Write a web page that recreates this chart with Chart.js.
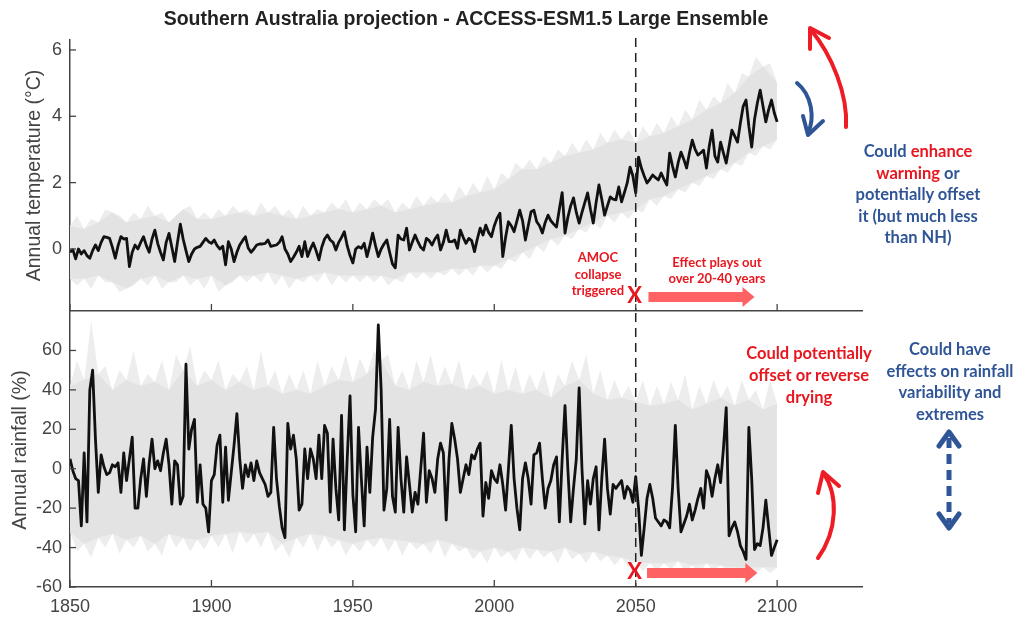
<!DOCTYPE html>
<html>
<head>
<meta charset="utf-8">
<script src="https://cdn.jsdelivr.net/npm/chart.js@4.4.1/dist/chart.umd.min.js"></script>
<style>
  body { margin: 0; background: #fff; width: 1020px; height: 619px; overflow: hidden; position: relative; }
  canvas { position: absolute; left: 0; }
  #topChart { top: 0; }
  #botChart { top: 312px; }
  .note { position: absolute; font-family: Lato, "Open Sans", sans-serif; font-weight: bold; text-align: center; white-space: nowrap; transform: translateX(-50%); }
  .red { color: #e8171f; }
  .blue { color: #2f5597; }
</style>
</head>
<body>
<canvas id="topChart" width="1020" height="312"></canvas>
<canvas id="botChart" width="1020" height="307"></canvas>

<div class="note red" style="left:598px; top:249px; font-size:13px; line-height:16.5px;">AMOC<br>collapse<br>triggered</div>
<div class="note red" style="left:717px; top:254px; font-size:13px; line-height:16px;">Effect plays out<br>over 20-40 years</div>
<div class="note blue" style="left:918px; top:141px; font-size:16.5px; line-height:21.5px;">Could <span class="red">enhance</span><br><span class="red">warming</span> or<br>potentially offset<br>it (but much less<br>than NH)</div>
<div class="note red" style="left:809px; top:342px; font-size:16.5px; line-height:22px;">Could potentially<br>offset or reverse<br>drying</div>
<div class="note blue" style="left:950px; top:339px; font-size:16.5px; line-height:21.7px;">Could have<br>effects on rainfall<br>variability and<br>extremes</div>

<script>
// ---- data ----
const years = Array.from({ length: 251 }, (_, i) => 1850 + i);
const bandYears = Array.from({ length: 51 }, (_, i) => 1850 + 5 * i);
const spikeYears = Array.from({ length: 50 }, (_, i) => 1852.5 + 5 * i);
const xTicks = [1850, 1900, 1950, 2000, 2050, 2100];
const tempTicks = [0, 2, 4, 6];
const rainTicks = [-60, -40, -20, 0, 20, 40, 60];
const collapseYear = 2050;

// ensemble mean, annual temperature anomaly (°C)
const tempMean = [
  -0.10, -0.02, -0.30, 0.00, -0.15, -0.05, -0.20, -0.28, -0.05, 0.12,
  -0.05, 0.20, 0.37, 0.35, 0.32, 0.05, -0.28, 0.10, 0.37, 0.30,
  0.32, -0.53, -0.10, 0.12, 0.00, 0.20, 0.37, 0.10, -0.10, 0.30,
  0.57, 0.17, -0.10, -0.33, 0.20, 0.47, 0.05, -0.38, 0.20, 0.75,
  0.30, -0.05, -0.38, -0.15, 0.00, 0.05, 0.08, 0.20, 0.32, 0.22,
  0.17, 0.27, 0.10, 0.00, 0.08, -0.48, 0.22, 0.00, -0.38, -0.10,
  0.12, 0.25, 0.37, 0.03, -0.10, 0.00, 0.12, 0.15, 0.15, 0.17,
  0.27, 0.08, 0.10, 0.12, 0.20, 0.37, 0.00, -0.15, -0.38, -0.25,
  -0.10, 0.08, -0.23, 0.22, -0.23, 0.00, 0.18, -0.05, -0.33, 0.05,
  0.30, 0.42, 0.27, 0.20, -0.03, 0.20, 0.35, 0.52, 0.10, -0.20,
  -0.42, 0.00, 0.07, 0.02, 0.17, -0.23, 0.10, 0.48, 0.10, -0.23,
  0.00, 0.15, 0.27, -0.10, -0.45, -0.57, 0.42, 0.30, 0.27, 0.63,
  -0.03, 0.20, 0.42, 0.22, 0.05, -0.03, 0.32, 0.25, 0.12, 0.30,
  0.42, -0.03, 0.20, 0.57, 0.22, 0.22, 0.27, 0.02, 0.57, 0.35,
  0.17, 0.32, 0.25, -0.08, 0.30, 0.63, 0.42, 0.72, 0.50, 0.37,
  0.70, 0.93, 1.08, -0.23, 0.35, 0.82, 0.70, 0.52, 0.85, 1.17,
  0.85, 0.27, 0.70, 1.12, 1.17, 0.82, 0.70, 0.48, 0.80, 1.02,
  0.85, 0.75, 0.66, 1.20, 1.70, 0.48, 0.95, 1.30, 1.54, 1.10,
  0.78, 1.10, 1.40, 1.69, 1.20, 0.78, 1.40, 1.93, 1.50, 1.02,
  1.30, 1.57, 1.50, 1.48, 1.87, 1.42, 1.70, 1.99, 2.47, 2.20,
  1.69, 2.77, 2.44, 2.20, 1.99, 2.10, 2.23, 2.15, 2.08, 2.29,
  2.10, 1.93, 2.89, 2.50, 2.17, 2.60, 2.92, 2.70, 2.44, 2.90,
  3.28, 3.00, 2.83, 2.90, 2.98, 2.44, 3.10, 3.58, 2.80, 2.62,
  3.22, 2.90, 2.59, 3.10, 3.58, 3.40, 3.22, 3.80, 4.30, 4.49,
  3.70, 3.07, 3.90, 4.40, 4.79, 4.30, 3.83, 4.20, 4.49, 4.10,
  3.83
];

// ensemble spread (core band every 5 years, member spikes in between)
const tempUpper = [
  0.7, 0.6, 0.8, 1.1, 0.8, 0.9, 1.0, 0.8, 1.2, 0.9,
  0.9, 1.0, 1.1, 1.0, 1.1, 1.0, 0.9, 1.0, 1.1, 1.2,
  1.1, 1.2, 1.3, 1.1, 1.2, 1.3, 1.4, 1.4, 1.6, 1.7,
  1.8, 2.1, 2.4, 2.4, 2.6, 2.8, 2.9, 3.0, 3.2, 3.3,
  3.2, 3.4, 3.5, 3.7, 3.9, 4.2, 4.4, 4.7, 5.2, 5.5,
  5.0
];
const tempLower = [
  -0.9, -0.9, -0.8, -1.0, -1.2, -0.9, -0.8, -1.0, -0.8, -0.9,
  -0.8, -1.1, -0.8, -0.8, -0.7, -0.8, -0.9, -0.8, -0.7, -0.8,
  -0.8, -0.8, -0.8, -0.9, -0.7, -0.7, -0.7, -0.6, -0.6, -0.5,
  -0.5, -0.3, -0.1, 0.1, 0.3, 0.4, 0.6, 0.8, 1.0, 1.1,
  1.2, 1.5, 1.6, 1.8, 2.0, 2.2, 2.4, 2.6, 2.9, 3.1,
  3.3
];
const tempSpikeUp = [
  1.0, 0.9, 1.2, 1.0, 1.1, 1.3, 1.1, 1.0, 1.3, 1.1,
  1.2, 1.3, 1.2, 1.4, 1.3, 1.2, 1.3, 1.2, 1.4, 1.5,
  1.4, 1.5, 1.5, 1.4, 1.6, 1.6, 1.7, 1.9, 2.0, 2.2,
  2.3, 2.6, 2.7, 2.8, 3.0, 3.2, 3.3, 3.5, 3.6, 3.6,
  3.7, 3.8, 4.0, 4.2, 4.5, 4.6, 5.0, 5.3, 5.8, 5.6
];
const tempSpikeLow = [
  -1.1, -1.2, -1.0, -1.3, -1.1, -1.1, -1.2, -1.0, -1.1, -1.2,
  -1.3, -1.0, -1.0, -1.0, -1.1, -1.2, -1.0, -1.0, -1.1, -1.0,
  -1.0, -1.0, -1.1, -1.0, -0.9, -0.9, -0.8, -0.8, -0.8, -0.7,
  -0.6, -0.4, -0.3, -0.1, 0.1, 0.3, 0.5, 0.6, 0.8, 0.9,
  1.1, 1.3, 1.5, 1.7, 1.9, 2.1, 2.3, 2.5, 2.8, 3.0
];

// ensemble mean, annual rainfall anomaly (%)
const rainMean = [
  5, -1, -5, -6, -29, 8, -27, 40, 50, 15,
  -12, 7, 1, -3, -2, 2, 1, 3, -12, 8,
  -6, 5, 16, -20, -20, -5, 5, -14, 3, 15,
  0, 4, -1, 8, 15, 2, -18, 4, 2, -18,
  -14, 53, 10, 20, 25, -17, 2, -18, -20, -32,
  -6, -3, 12, 17, -17, 11, -16, -2, 12, 28,
  5, -10, 2, -4, 3, -6, 4, -2, -5, -8,
  -14, -12, 21, -5, -19, -30, -35, 23, 10, 17,
  5, -21, -18, 10, -5, 10, 5, -5, 17, -5,
  22, 18, -22, 15, -10, -26, 27, -31, 5, 37,
  -13, -32, 21, -5, -29, 11, -12, 16, 30, 73,
  40, -21, -10, 25, -14, -22, 21, -5, -22, 6,
  -8, -22, -12, -18, 0, 18, -17, -1, -5, -12,
  5, 13, 8, -26, 5, 23, 15, 5, -12, -5,
  2, -3, 7, 5, 10, 13, -24, -7, -15, -1,
  -5, -7, 2, -8, -21, 0, 22, -5, -20, -31,
  -5, 3, -5, -18, 7, 8, 13, -5, -20, -10,
  -6, 2, 6, -27, 5, 32, 0, -27, -10, 5,
  41, 0, -28, -6, -18, -5, 1, -31, -5, 15,
  -10, -23, -8, -10, -8, -6, -15, -9, -11, -17,
  -4, -20, -44, -30, -15, -8, -15, -25, -27, -29,
  -26, -27, -30, -10, 22, -10, -32, -28, -24, -18,
  -26, -21, -15, -10, -20, -1, -5, -14, -5, 2,
  -7, 10, 31, -34, -30, -27, -32, -39, -42, -46,
  21, -5, -41, -38, -39, -30, -16, -30, -44, -40,
  -36
];

const rainUpper = [
  42, 45, 48, 40, 45, 42, 44, 40, 50, 42,
  45, 40, 44, 40, 42, 38, 40, 38, 42, 45,
  44, 48, 55, 42, 40, 44, 42, 43, 40, 42,
  38, 40, 38, 40, 36, 42, 45, 38, 35, 36,
  34, 32, 33, 35, 30, 33, 36, 32, 35, 30,
  33
];
const rainLower = [
  -32, -38, -35, -33, -36, -34, -38, -33, -35, -36,
  -34, -33, -32, -33, -32, -38, -35, -33, -34, -36,
  -38, -36, -35, -36, -37, -38, -36, -38, -40, -42,
  -40, -42, -40, -41, -42, -40, -43, -42, -44, -45,
  -47, -48, -48, -47, -49, -48, -49, -50, -50, -50,
  -50
];
const rainSpikeUp = [
  55, 75, 52, 50, 60, 48, 55, 58, 62, 50,
  55, 48, 52, 60, 50, 48, 50, 55, 52, 58,
  56, 60, 58, 50, 55, 58, 52, 55, 48, 50,
  55, 52, 48, 50, 48, 55, 58, 50, 45, 42,
  45, 42, 44, 48, 42, 45, 42, 45, 40, 45
];
const rainSpikeLow = [
  -42, -45, -40, -43, -40, -42, -44, -40, -42, -41,
  -40, -43, -38, -40, -42, -45, -40, -42, -40, -44,
  -42, -40, -42, -44, -41, -43, -45, -42, -46, -48,
  -45, -47, -46, -45, -48, -46, -48, -47, -49, -50,
  -52, -52, -51, -52, -53, -52, -52, -53, -53, -53
];

// ---- helpers ----
const pts = (xs, ys) => xs.map((x, i) => ({ x: x, y: ys[i] }));
// core band points with the spike values placed between them
const spiky = (core, spikes) => pts(bandYears, core).flatMap((p, i) =>
  i < spikes.length ? [p, { x: spikeYears[i], y: spikes[i] }] : [p]);

const AXIS = '#444';
const RED = '#ee1c25';
const BLUE = '#2f5597';
const SALMON = '#ff6262';
const NONE = 'rgba(0,0,0,0)';

function makeDatasets(mean, upper, lower, spikeUp, spikeLow) {
  return [
    { data: pts(years, mean), borderColor: '#111', borderWidth: 2.8, borderJoinStyle: 'round', pointRadius: 0, tension: 0, order: 0 },
    { data: pts(bandYears, upper), borderColor: NONE, borderWidth: 0, backgroundColor: '#e3e3e3', fill: '+1', pointRadius: 0, order: 1 },
    { data: pts(bandYears, lower), borderColor: NONE, borderWidth: 0, fill: false, pointRadius: 0, order: 2 },
    { data: spiky(upper, spikeUp), borderColor: NONE, borderWidth: 0, backgroundColor: '#ededed', fill: '+1', pointRadius: 0, order: 3 },
    { data: spiky(lower, spikeLow), borderColor: NONE, borderWidth: 0, fill: false, pointRadius: 0, order: 4 }
  ];
}

function fatArrow(ctx, x0, x1, yc, shaft, headLen, headH) {
  ctx.beginPath();
  ctx.moveTo(x0, yc - shaft / 2);
  ctx.lineTo(x1 - headLen, yc - shaft / 2);
  ctx.lineTo(x1 - headLen, yc - headH / 2);
  ctx.lineTo(x1, yc);
  ctx.lineTo(x1 - headLen, yc + headH / 2);
  ctx.lineTo(x1 - headLen, yc + shaft / 2);
  ctx.lineTo(x0, yc + shaft / 2);
  ctx.closePath();
  ctx.fill();
}

function chevron(ctx, tip, a, b) {
  ctx.beginPath();
  ctx.moveTo(a[0], a[1]);
  ctx.lineTo(tip[0], tip[1]);
  ctx.lineTo(b[0], b[1]);
  ctx.stroke();
}

// inward tick marks (MATLAB style), collapse marker and effect arrow
const axisDecor = {
  id: 'axisDecor',
  afterDatasetsDraw(chart, args, opts) {
    const { ctx, scales: { x, y } } = chart;
    const px = x.getPixelForValue(collapseYear);
    ctx.save();
    ctx.strokeStyle = '#222';
    ctx.lineWidth = 1.5;
    ctx.setLineDash([9, 6]);
    ctx.beginPath();
    ctx.moveTo(px, y.top - opts.dashExtra);
    ctx.lineTo(px, y.bottom);
    ctx.stroke();
    ctx.setLineDash([]);

    ctx.strokeStyle = AXIS;
    ctx.lineWidth = 1.3;
    x.ticks.forEach(t => {
      const p = x.getPixelForValue(t.value);
      ctx.beginPath(); ctx.moveTo(p, y.bottom); ctx.lineTo(p, y.bottom - 7); ctx.stroke();
    });
    y.ticks.forEach(t => {
      const p = y.getPixelForValue(t.value);
      ctx.beginPath(); ctx.moveTo(x.left, p); ctx.lineTo(x.left + 6, p); ctx.stroke();
    });

    // effect arrow and X marker
    ctx.fillStyle = SALMON;
    fatArrow(ctx, x.getPixelForValue(opts.arrowFrom), x.getPixelForValue(opts.arrowTo), y.bottom - 14, 10, 12, 20);
    ctx.fillStyle = '#e8171f';
    ctx.font = 'bold 22px Lato, sans-serif';
    ctx.textAlign = 'center';
    ctx.textBaseline = 'middle';
    ctx.fillText('X', px - 1, y.bottom - 15);
    ctx.restore();
  }
};

const topArrows = {
  id: 'topArrows',
  afterDraw(chart) {
    const ctx = chart.ctx;
    ctx.save();
    ctx.font = 'bold 19.5px "Liberation Sans", Arial, sans-serif';
    ctx.fillStyle = '#222';
    ctx.textAlign = 'center';
    ctx.textBaseline = 'middle';
    ctx.fillText('Southern Australia projection - ACCESS-ESM1.5 Large Ensemble', (chart.chartArea.left + chart.chartArea.right) / 2, 20);

    ctx.lineWidth = 4;
    ctx.lineCap = 'round';
    ctx.lineJoin = 'round';
    ctx.strokeStyle = RED;
    ctx.beginPath();
    ctx.moveTo(846, 127);
    ctx.bezierCurveTo(848, 95, 832, 55, 811, 30);
    ctx.stroke();
    chevron(ctx, [810, 28], [810, 49], [829, 38]);

    ctx.strokeStyle = BLUE;
    ctx.beginPath();
    ctx.moveTo(797, 83);
    ctx.bezierCurveTo(812, 95, 815, 118, 808, 133);
    ctx.stroke();
    chevron(ctx, [808, 135], [803, 116], [823, 121]);
    ctx.restore();
  }
};

const botArrows = {
  id: 'botArrows',
  afterDraw(chart) {
    const ctx = chart.ctx;
    const o = -312;
    ctx.save();
    ctx.lineWidth = 4;
    ctx.lineCap = 'round';
    ctx.lineJoin = 'round';
    ctx.strokeStyle = RED;
    ctx.beginPath();
    ctx.moveTo(818, 558 + o);
    ctx.bezierCurveTo(838, 530 + o, 838, 495 + o, 824, 474 + o);
    ctx.stroke();
    chevron(ctx, [823, 472 + o], [818, 493 + o], [839, 486 + o]);

    ctx.strokeStyle = BLUE;
    ctx.lineWidth = 5;
    ctx.lineCap = 'butt';
    ctx.setLineDash([10, 6]);
    ctx.beginPath();
    ctx.moveTo(949, 438 + o);
    ctx.lineTo(949, 523 + o);
    ctx.stroke();
    ctx.setLineDash([]);
    ctx.lineCap = 'round';
    chevron(ctx, [949, 432 + o], [939, 446 + o], [959, 446 + o]);
    chevron(ctx, [949, 528 + o], [939, 514 + o], [959, 514 + o]);
    ctx.restore();
  }
};

const FAMILY = '"Liberation Sans", Arial, sans-serif';

function yAxis(min, max, ticks, title, width) {
  return {
    type: 'linear', min: min, max: max,
    afterBuildTicks: s => { s.ticks = ticks.map(v => ({ value: v })); },
    afterFit: s => { s.width = width; s.paddingTop = 0; s.paddingBottom = 0; },
    ticks: { color: AXIS, font: { family: FAMILY, size: 18 }, padding: 8 },
    grid: { display: false, drawTicks: false },
    border: { display: true, color: AXIS, width: 1.5 },
    title: { display: true, text: title, color: AXIS, font: { family: FAMILY, size: 19.5 }, padding: 0 }
  };
}

function xAxis(showLabels, height) {
  return {
    type: 'linear', min: 1850, max: 2130,
    afterBuildTicks: s => { s.ticks = xTicks.map(v => ({ value: v })); },
    afterFit: s => { s.height = height; s.paddingLeft = 0; s.paddingRight = 0; },
    ticks: { display: showLabels, color: AXIS, font: { family: FAMILY, size: 18 }, padding: 9, maxRotation: 0, callback: v => String(v) },
    grid: { display: false, drawTicks: false },
    border: { display: true, color: AXIS, width: 1.5 }
  };
}

const common = {
  responsive: false,
  animation: false,
  plugins: { legend: { display: false }, tooltip: { enabled: false } }
};

new Chart(document.getElementById('topChart'), {
  type: 'line',
  data: { datasets: makeDatasets(tempMean, tempUpper, tempLower, tempSpikeUp, tempSpikeLow) },
  options: {
    ...common,
    layout: { padding: { left: 23, top: 40, right: 158, bottom: 0 } },
    scales: {
      x: xAxis(false, 1),
      y: yAxis(-1.87, 6.3, tempTicks, 'Annual temperature (°C)', 47)
    },
    plugins: { ...common.plugins, axisDecor: { dashExtra: 2, arrowFrom: 2054.5, arrowTo: 2092 } }
  },
  plugins: [axisDecor, topArrows]
});

new Chart(document.getElementById('botChart'), {
  type: 'line',
  data: { datasets: makeDatasets(rainMean, rainUpper, rainLower, rainSpikeUp, rainSpikeLow) },
  options: {
    ...common,
    layout: { padding: { left: 9, top: 1, right: 158, bottom: 0 } },
    scales: {
      x: xAxis(true, 32),
      y: yAxis(-60, 79, rainTicks, 'Annual rainfall (%)', 61)
    },
    plugins: { ...common.plugins, axisDecor: { dashExtra: 0, arrowFrom: 2054, arrowTo: 2093 } }
  },
  plugins: [axisDecor, botArrows]
});
</script>
</body>
</html>
